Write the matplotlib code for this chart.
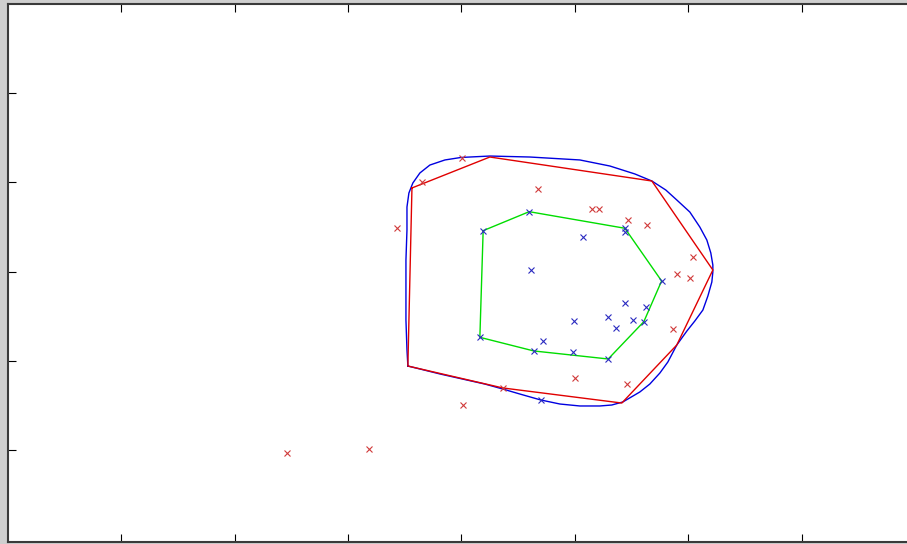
import matplotlib
matplotlib.use("Agg")
import matplotlib.pyplot as plt

# Class A samples (red crosses)
red_x = [2.460, 3.183, 3.428, 3.648, 4.010, 4.362, 4.676, 5.000, 5.147, 5.214,
         5.467, 5.456, 5.632, 5.897, 6.014, 6.043, 5.864, 4.001]
red_y = [0.965, 1.010, 3.485, 4.007, 1.503, 1.690, 3.922, 1.809, 3.701, 3.701,
         3.578, 1.738, 3.522, 2.969, 2.927, 3.166, 2.355, 4.270]

# Class B samples (blue crosses)
blue_x = [4.191, 4.597, 4.609, 5.068, 5.441, 5.441, 5.765, 5.441, 5.626, 5.294,
          5.514, 5.608, 5.362, 4.991, 4.980, 5.294, 4.162, 4.715, 4.638, 4.697]
blue_y = [3.458, 3.671, 3.017, 3.384, 3.485, 3.446, 2.894, 2.643, 2.605, 2.493,
          2.456, 2.437, 2.363, 2.448, 2.094, 2.019, 2.262, 2.224, 2.109, 1.559]

# Inner hull of class B
green_x = [4.191, 4.597, 5.441, 5.765, 5.608, 5.294, 4.638, 4.162, 4.191]
green_y = [3.458, 3.671, 3.485, 2.894, 2.437, 2.019, 2.109, 2.262, 3.458]

# Polygonal outer boundary
poly_x = [3.563, 4.250, 5.679, 6.217, 5.899, 5.414, 4.365, 3.527, 3.563]
poly_y = [3.937, 4.284, 4.015, 3.017, 2.176, 1.525, 1.694, 1.940, 3.937]

# Smooth outer boundary
curve_x = [3.527, 3.519, 3.510, 3.510, 3.510, 3.519, 3.519, 3.536, 3.571, 3.633,
           3.721, 3.854, 3.995, 4.250, 4.603, 5.044, 5.309, 5.529, 5.679, 5.802,
           5.899, 6.014, 6.102, 6.164, 6.199, 6.217, 6.217, 6.208, 6.173, 6.129,
           6.058, 5.988, 5.899, 5.820, 5.750, 5.661, 5.573, 5.423, 5.326, 5.220,
           5.044, 4.868, 4.700, 4.515, 4.365, 4.206, 4.048, 3.810, 3.633, 3.527]
curve_y = [1.940, 2.120, 2.456, 2.793, 3.129, 3.466, 3.723, 3.880, 3.993, 4.105,
           4.194, 4.251, 4.279, 4.295, 4.284, 4.251, 4.183, 4.094, 4.015, 3.914,
           3.802, 3.667, 3.499, 3.353, 3.208, 3.073, 2.994, 2.882, 2.725, 2.568,
           2.445, 2.333, 2.176, 1.985, 1.862, 1.738, 1.649, 1.537, 1.503, 1.492,
           1.492, 1.514, 1.559, 1.626, 1.682, 1.738, 1.783, 1.851, 1.907, 1.940]

x_ticks = [1, 2, 3, 4, 5, 6, 7]
y_ticks = [1, 2, 3, 4, 5]

fig = plt.figure(figsize=(9.07, 5.44), dpi=100, facecolor="#cfcfcf")
ax = fig.add_axes([8 / 907, 2 / 544, 1.0, 538 / 544])
ax.set_facecolor("white")

ax.plot(curve_x, curve_y, color="#0000e0", lw=1.0)
ax.plot(poly_x, poly_y, color="#e00000", lw=1.0)
ax.plot(green_x, green_y, color="#00dd00", lw=1.0)
ax.plot(red_x, red_y, ls="none", marker="x", ms=4.5, mew=0.8, color="#d03a3a")
ax.plot(blue_x, blue_y, ls="none", marker="x", ms=4.5, mew=0.8, color="#2a2ac0")

ax.set_xlim(0, 8)
ax.set_ylim(6 - 538 / 89.17, 6)
ax.set_xticks(x_ticks)
ax.set_yticks(y_ticks)
ax.tick_params(direction="in", length=5.5, width=0.8, color="black",
               top=True, right=True, labelbottom=False, labelleft=False)
for side in ax.spines.values():
    side.set_color("#3a3a3a")
    side.set_linewidth(1.5)

fig.savefig("out.png", dpi=100, facecolor=fig.get_facecolor())
